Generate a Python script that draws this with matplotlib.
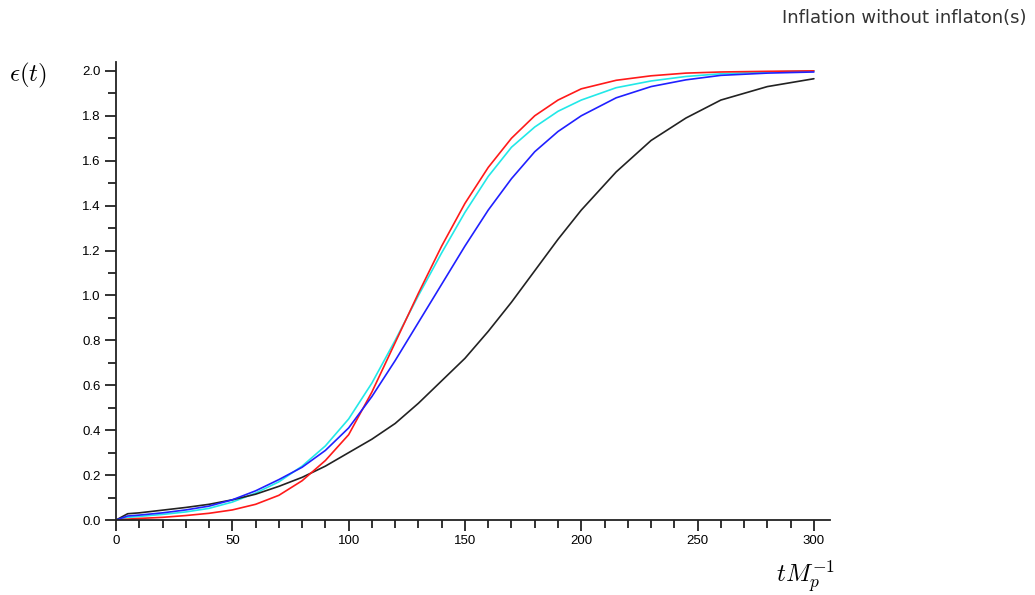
import matplotlib
matplotlib.use("Agg")
import matplotlib.pyplot as plt
from matplotlib.ticker import MultipleLocator

plt.rcParams['mathtext.fontset'] = 'cm'
plt.rcParams['font.family'] = ['Liberation Sans', 'DejaVu Sans']

# time axis (t M_p^-1)
t = [0, 5, 10, 20, 30, 40, 50, 60, 70, 80, 90, 100, 110, 120, 130, 140,
     150, 160, 170, 180, 190, 200, 215, 230, 245, 260, 280, 300]

# epsilon(t) for each run
eps_black = [0, 0.028, 0.032, 0.044, 0.056, 0.07, 0.09, 0.115, 0.15, 0.19,
             0.24, 0.30, 0.36, 0.43, 0.52, 0.62, 0.72, 0.84, 0.97, 1.11,
             1.25, 1.38, 1.55, 1.69, 1.79, 1.87, 1.93, 1.965]
eps_blue = [0, 0.018, 0.022, 0.032, 0.045, 0.062, 0.09, 0.13, 0.18, 0.235,
            0.31, 0.41, 0.55, 0.71, 0.88, 1.05, 1.22, 1.38, 1.52, 1.64,
            1.73, 1.80, 1.88, 1.93, 1.96, 1.98, 1.99, 1.995]
eps_cyan = [0, 0.012, 0.016, 0.025, 0.036, 0.052, 0.08, 0.12, 0.17, 0.24,
            0.33, 0.45, 0.61, 0.80, 1.00, 1.19, 1.37, 1.53, 1.66, 1.75,
            1.82, 1.87, 1.925, 1.955, 1.975, 1.987, 1.995, 2.0]
eps_red = [0, 0.004, 0.007, 0.012, 0.02, 0.03, 0.045, 0.07, 0.11, 0.175,
           0.265, 0.38, 0.57, 0.79, 1.01, 1.22, 1.41, 1.57, 1.70, 1.80,
           1.87, 1.92, 1.958, 1.978, 1.99, 1.995, 1.998, 2.0]

fig = plt.figure(figsize=(10.35, 5.95), dpi=100)
ax = fig.add_axes([0.1121, 0.126, 0.690, 0.770])

lw = 1.2
style = dict(lw=lw, solid_joinstyle='round', solid_capstyle='round')
ax.plot(t, eps_cyan, color='#22e8e8', **style)
ax.plot(t, eps_black, color='#222222', **style)
ax.plot(t, eps_red, color='#ff1a1a', **style)
ax.plot(t, eps_blue, color='#2020ff', **style)

ax.set_xlim(0, 307)
ax.set_ylim(0, 2.04)

ax.spines['top'].set_visible(False)
ax.spines['right'].set_visible(False)
for s in ['left', 'bottom']:
    ax.spines[s].set_linewidth(1.3)
    ax.spines[s].set_color('#222222')

ax.xaxis.set_major_locator(MultipleLocator(50))
ax.xaxis.set_minor_locator(MultipleLocator(10))
ax.yaxis.set_major_locator(MultipleLocator(0.2))
ax.yaxis.set_minor_locator(MultipleLocator(0.1))
ax.yaxis.set_major_formatter(plt.FormatStrFormatter('%.1f'))
ax.tick_params(which='major', direction='out', length=8, width=1.3,
               color='#222222', labelsize=9.5, pad=3)
ax.tick_params(which='minor', direction='out', length=6, width=1.3,
               color='#222222')

fig.text(28 / 1035, 1 - 75 / 595, r'$\epsilon(t)$', fontsize=18,
         ha='center', va='center')
fig.text(835 / 1035, 1 - 577 / 595, r'$tM_p^{-1}$', fontsize=18,
         ha='right', va='center')
fig.text(1027 / 1035, 1 - 18 / 595, 'Inflation without inflaton(s)',
         fontsize=13, ha='right', va='center', color='#333333',
         family=['DejaVu Sans'])

fig.savefig('out.png', dpi=100)
